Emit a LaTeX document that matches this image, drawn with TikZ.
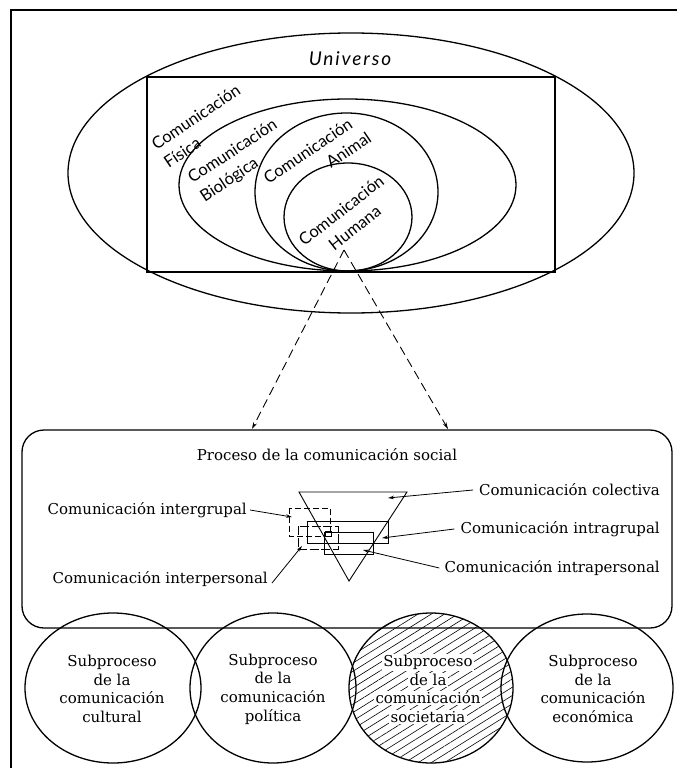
\documentclass[tikz,border=0pt]{standalone}
\usepackage{fontspec}
\setmainfont{DejaVu Serif}
\newfontfamily\hum{Lato}
\newfontfamily\humit{Lato Italic}[LetterSpace=10]
\usetikzlibrary{arrows.meta,patterns.meta}
\setlength{\fboxsep}{1.2pt}
\begin{document}
\begin{tikzpicture}[x=1pt,y=-1pt,
  shapeline/.style={line width=1.3pt},
  boxline/.style={line width=0.9pt},
  lbl/.style={font=\fontsize{15}{18}\selectfont, inner sep=0pt},
  up/.style={font=\hum\fontsize{16.5}{22}\selectfont, inner sep=0pt},
  sub/.style={font=\fontsize{15}{18.7}\selectfont, align=center, inner sep=0pt},
  ptr/.style={line width=0.8pt, -{Stealth[length=6pt,width=3.5pt]}},
  dashptr/.style={line width=0.9pt, dash pattern=on 9pt off 5pt, -{Stealth[length=7pt,width=4pt]}},
  ]
\useasboundingbox (0,0) rectangle (677,768);
% frame
\draw[line width=2pt] (677,10) -- (11,10) -- (11,768);

% upper part
\draw[shapeline] (351,173) ellipse [x radius=283, y radius=140];
\draw[shapeline] (147,77) rectangle (555,272);
\draw[shapeline] (347.5,185) ellipse [x radius=168.5, y radius=86];
\draw[shapeline] (346.5,192) ellipse [x radius=91.5, y radius=79];
\draw[shapeline] (348,217) ellipse [x radius=64, y radius=54];

\node[font=\humit\fontsize{19}{23}\selectfont, inner sep=0pt] (uni) at (350,59) {Universo};
\node[up, rotate=34, align=left] (fis) at (202,126) {Comunicación\\Física};
\node[up, rotate=33.5, align=left] (bio) at (239,161) {Comunicación\\Biológica};
\node[up, rotate=34, align=right] (ani) at (314,160) {Comunicación\\Animal\hspace*{-8pt}};
\node[up, rotate=38, align=center] (hmn) at (348,219) {Comunicación\\Humana};

% projection lines
\coordinate (apex) at (344,250);
\coordinate (pl) at (252,429);
\coordinate (pr) at (448,429);
\draw[dashptr] (apex) -- (pl);
\draw[dashptr] (apex) -- (pr);

% process box
\draw[shapeline, rounded corners=22pt] (22,430) rectangle (672,628);
\node[lbl] (proc) at (327,455) {Proceso de la comunicación social};

% triangle and small boxes
\draw[boxline] (299,492) -- (407,492) -- (349,581) -- cycle;
\draw[boxline, dash pattern=on 6pt off 3pt] (289,508) rectangle (330,536);
\draw[boxline] (307,521) rectangle (388,543);
\draw[boxline, dash pattern=on 9pt off 2.5pt] (298,526) rectangle (338,549);
\draw[boxline] (324,532) rectangle (373,554);
\draw[boxline] (325,531) rectangle (331,536);

\coordinate (tcol) at (388,498);
\coordinate (tinter) at (292,517);
\coordinate (tintra) at (382,538);
\coordinate (tipers) at (363,550);
\coordinate (tepers) at (302,546);

\node[lbl, anchor=east] (lcol) at (660,490) {Comunicación colectiva};
\node[lbl, anchor=east] (lintra) at (660,529) {Comunicación intragrupal};
\node[lbl, anchor=east] (lipers) at (660,568) {Comunicación intrapersonal};
\node[lbl, anchor=east] (linter) at (247,510) {Comunicación intergrupal};
\node[lbl, anchor=east] (lepers) at (268,579) {Comunicación interpersonal};

\draw[ptr] ([xshift=-6pt]lcol.west) -- (tcol);
\draw[ptr] ([xshift=-6pt]lintra.west) -- (tintra);
\draw[ptr] ([xshift=-5pt]lipers.west) -- (tipers);
\draw[ptr] ([xshift=3pt]linter.east) -- (tinter);
\draw[ptr] ([xshift=4pt,yshift=-4pt]lepers.east) -- (tepers);

% subprocess circles
\fill[pattern={Lines[angle=32,distance=7pt,line width=0.6pt]}] (431,688) ellipse [x radius=82, y radius=75];
\draw[shapeline] (113,688) ellipse [x radius=88, y radius=75];
\draw[shapeline] (273,688) ellipse [x radius=83, y radius=75];
\draw[shapeline] (431,688) ellipse [x radius=82, y radius=75];
\draw[shapeline] (587,688) ellipse [x radius=86, y radius=74];

\node[sub] (s1) at (112,689) {Subproceso\\de la\\comunicación\\cultural};
\node[sub] (s2) at (273,689) {Subproceso\\de la\\comunicación\\política};
\node[sub] (s3) at (428,689) {\colorbox{white}{Subproceso}\\\colorbox{white}{de la}\\\colorbox{white}{comunicación}\\\colorbox{white}{societaria}};
\node[sub] (s4) at (593,689) {Subproceso\\de la\\comunicación\\económica};
\end{tikzpicture}
\end{document}
